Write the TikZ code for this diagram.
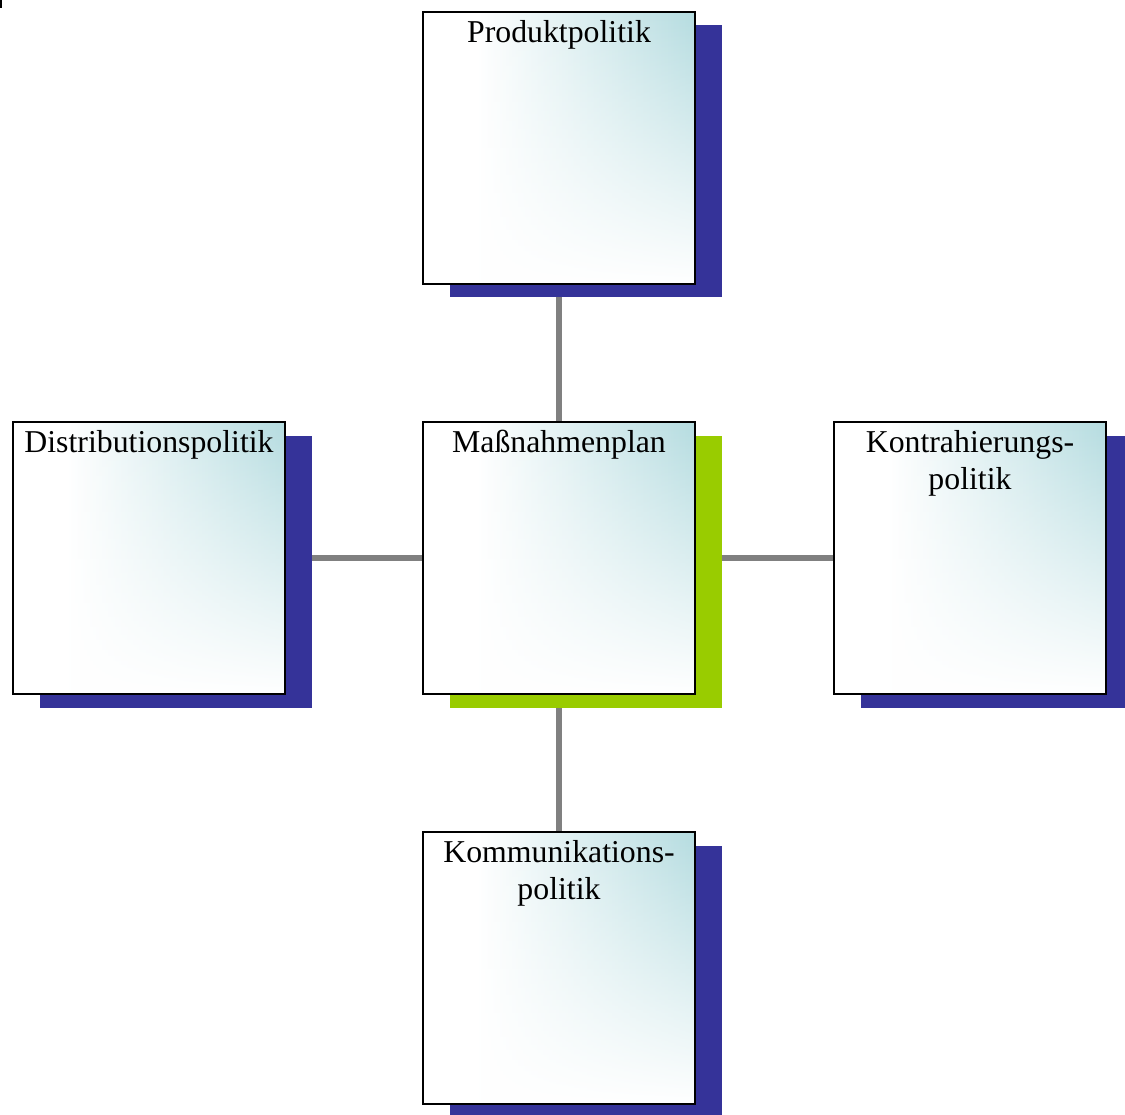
\documentclass[tikz,border=0pt]{standalone}
\usepackage{fontspec}
\setmainfont{Liberation Serif}
\usetikzlibrary{shadows,fadings,backgrounds}
\definecolor{boxteal}{RGB}{181,220,224}
\definecolor{shadowblue}{RGB}{53,51,153}
\definecolor{shadowgreen}{RGB}{153,204,0}
\definecolor{linkgray}{RGB}{128,128,128}
\pgfdeclarehorizontalshading{boxh}{100bp}{color(0bp)=(white); color(25bp)=(white); color(35bp)=(white); color(75bp)=(boxteal); color(100bp)=(boxteal)}
\tikzfading[name=topclear, top color=transparent!100, bottom color=transparent!0]
\tikzset{
  boxbase/.style={minimum width=272pt, minimum height=272pt, inner sep=0pt,
    line width=2pt, draw=black,
    preaction={shade, shading=boxh},
    preaction={fill=white, path fading=topclear}},
  bluebox/.style={general shadow={shadow xshift=27pt, shadow yshift=-13.5pt, fill=shadowblue}, boxbase},
  greenbox/.style={general shadow={shadow xshift=27pt, shadow yshift=-13.5pt, fill=shadowgreen}, boxbase},
  boxlabel/.style={anchor=north, inner sep=0pt, yshift=-9pt, align=center,
    font=\fontsize{31.8}{37}\selectfont},
  link/.style={draw=linkgray, line width=5.5pt}
}
\begin{document}
\begin{tikzpicture}[x=1pt,y=-1pt]
\useasboundingbox (0,0) rectangle (1125,1115);
\fill[black] (0,0) rectangle (2,8);
\node[greenbox, label={[boxlabel]north:Maßnahmenplan}] (c) at (559,558) {};
\node[bluebox, label={[boxlabel]north:Produktpolitik}] (t) at (559,148) {};
\node[bluebox, label={[boxlabel]north:Distributionspolitik}] (l) at (149,558) {};
\node[bluebox, label={[boxlabel]north:Kontrahierungs-\\politik}] (r) at (970,558) {};
\node[bluebox, label={[boxlabel]north:Kommunikations-\\politik}] (b) at (559,968) {};
\begin{scope}[on background layer]
\draw[link] (c.center) -- (t.center);
\draw[link] (c.center) -- (l.center);
\draw[link] (c.center) -- (r.center);
\draw[link] (c.center) -- (b.center);
\end{scope}
\end{tikzpicture}
\end{document}
